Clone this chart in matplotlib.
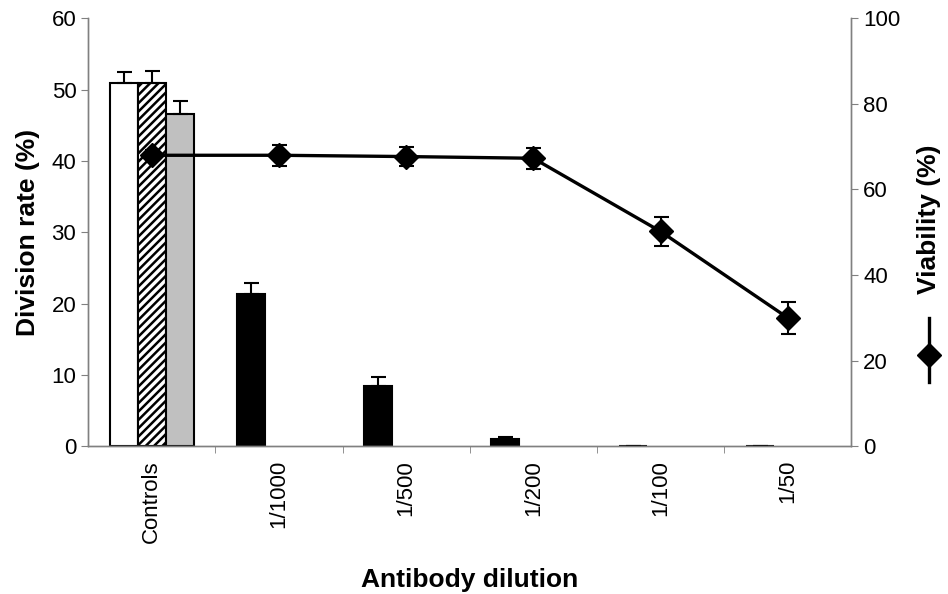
import numpy as np
import matplotlib.pyplot as plt
from matplotlib.lines import Line2D

# Division rate / viability vs antibody dilution

plt.rcParams['font.family'] = ['Liberation Sans', 'DejaVu Sans']
plt.rcParams['hatch.linewidth'] = 1.8

categories = ['Controls', '1/1000', '1/500', '1/200', '1/100', '1/50']

# control bars (white, hatched, grey) - division rate %
control_vals = [51.0, 50.9, 46.6]
control_err = [1.5, 1.7, 1.8]

# antibody treated bars (black) - division rate %
antibody_vals = [21.4, 8.4, 1.0, 0.0, 0.0]
antibody_err = [1.5, 1.3, 0.3, 0.0, 0.0]

# viability %
viability = [68.0, 68.0, 67.7, 67.3, 50.2, 30.0]
viability_err = [1.2, 2.5, 2.3, 2.4, 3.3, 3.8]

grey = '#808080'
fig = plt.figure(figsize=(9.48, 5.94), dpi=100)
ax = fig.add_axes([0.093, 0.249, 0.805, 0.72])

x = np.arange(len(categories))
w = 0.22

# controls
fills = ['white', 'white', '#c0c0c0']
hatches = [None, '////', None]
for i in range(3):
    ax.bar(x[0] + (i - 1) * w, control_vals[i], w, color=fills[i],
           edgecolor='black', linewidth=1.5, hatch=hatches[i], zorder=2)
    ax.errorbar(x[0] + (i - 1) * w, control_vals[i],
                yerr=[[0], [control_err[i]]], fmt='none', ecolor='black',
                elinewidth=1.5, capsize=5.4, capthick=1.5, zorder=3)

# antibody dilutions
ax.bar(x[1:] - w, antibody_vals, w, color='black', edgecolor='black',
       linewidth=1.5, zorder=2)
ax.errorbar(x[1:] - w, antibody_vals,
            yerr=[np.zeros(len(antibody_err)), antibody_err], fmt='none',
            ecolor='black', elinewidth=1.5, capsize=5.4, capthick=1.5, zorder=3)

ax.set_xlim(-0.5, len(categories) - 0.5)
ax.set_ylim(0, 60)
ax.set_yticks(np.arange(0, 61, 10))
ax.set_xticks(x)
ax.set_xticklabels(categories, rotation=90, fontsize=16)
ax.set_xticks(np.arange(0.5, len(categories) - 0.5, 1), minor=True)
ax.tick_params(axis='x', which='major', length=0, pad=10)
ax.tick_params(axis='x', which='minor', length=5, color=grey, direction='out')
ax.tick_params(axis='y', labelsize=16, length=5, color=grey, direction='out')
ax.set_ylabel('Division rate (%)', fontsize=19, fontweight='bold', labelpad=8)
ax.set_xlabel('Antibody dilution', fontsize=19, fontweight='bold', labelpad=18)
ax.spines['top'].set_visible(False)
for s in ['left', 'bottom', 'right']:
    ax.spines[s].set_color(grey)
    ax.spines[s].set_linewidth(1)

# viability on right axis
ax2 = ax.twinx()
ax2.errorbar(x, viability, yerr=viability_err, fmt='-D', color='black',
             lw=2.4, ms=12, ecolor='black', elinewidth=1.5, capsize=5.4,
             capthick=1.5, zorder=4)
ax2.set_ylim(0, 100)
ax2.set_yticks(np.arange(0, 101, 20))
ax2.tick_params(axis='y', labelsize=16, length=5, color=grey, direction='out')
ax2.spines['top'].set_visible(False)
for s in ['left', 'bottom', 'right']:
    ax2.spines[s].set_color(grey)
    ax2.spines[s].set_linewidth(1)
ax2.set_ylabel('Viability (%)', fontsize=19, fontweight='bold')
ax2.yaxis.set_label_coords(1.086, 0.53)

# legend key for viability, drawn vertically below the label
key = Line2D([1.102, 1.102], [0.15, 0.30], transform=ax2.transAxes, color='black',
             lw=2.4, clip_on=False)
ax2.add_line(key)
ax2.plot([1.102], [0.212], transform=ax2.transAxes, marker='D', ms=12,
         color='black', clip_on=False)

fig.savefig('out.png', dpi=100)
